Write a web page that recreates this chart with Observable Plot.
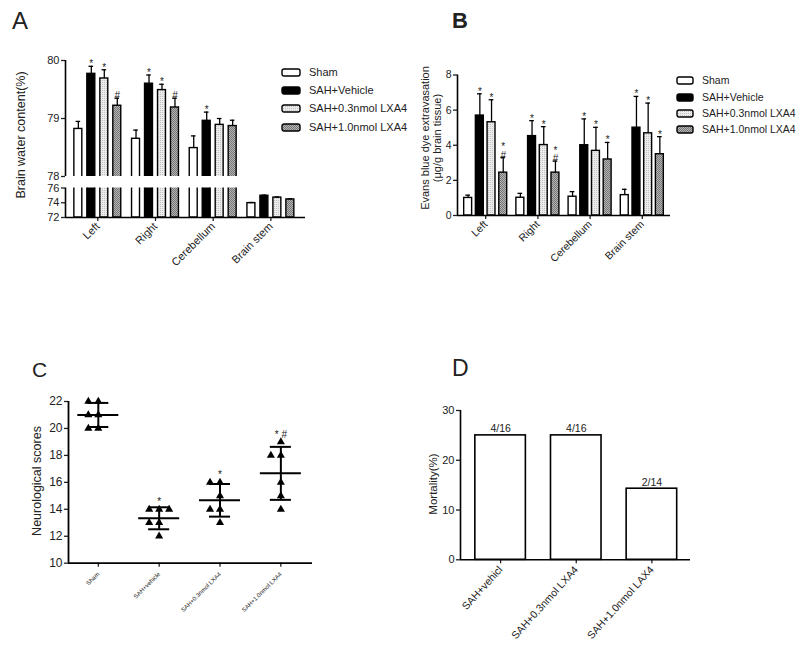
<!DOCTYPE html>
<html><head><meta charset="utf-8">
<script src="https://cdn.jsdelivr.net/npm/d3@7"></script>
<script src="https://cdn.jsdelivr.net/npm/@observablehq/plot@0.6"></script>
<style>
body{margin:0;background:#fff;}
#fig{position:relative;width:800px;height:652px;overflow:hidden;background:#fff;font-family:"Liberation Sans",Arial,sans-serif;color:#222;}
.txt{position:absolute;white-space:nowrap;line-height:1;}
.vl{position:absolute;white-space:nowrap;transform:translate(-50%,-50%) rotate(-90deg);text-align:center;}
.leg{position:absolute;display:flex;align-items:center;white-space:nowrap;transform:translateY(-50%);}
.leg svg{margin-right:8px;}
</style></head><body>
<div id="fig">
<svg width="0" height="0" style="position:absolute">
<defs>
<pattern id="p03" width="2" height="2" patternUnits="userSpaceOnUse"><rect width="2" height="2" fill="#ececec"/><rect width="1" height="1" fill="#c2c2c2"/></pattern>
<pattern id="p10" width="2" height="2" patternUnits="userSpaceOnUse"><rect width="2" height="2" fill="#b4b4b4"/><rect width="1" height="1" fill="#767676"/><rect x="1" y="1" width="1" height="1" fill="#767676"/></pattern>
</defs></svg>
</div>
<script>
// ---------- data ----------
const regions = ["Left", "Right", "Cerebellum", "Brain stem"];
const groups = ["Sham", "SAH+Vehicle", "SAH+0.3nmol LXA4", "SAH+1.0nmol LXA4"];

// Panel A: brain water content (%), rows = regions, columns = groups
const waterMean = [
  [78.82, 79.77, 79.69, 79.22],
  [78.65, 79.60, 79.49, 79.19],
  [78.49, 78.96, 78.89, 78.87],
  [73.95, 74.95, 74.70, 74.45]
];
const waterErr = [
  [0.13, 0.13, 0.15, 0.13],
  [0.15, 0.15, 0.10, 0.16],
  [0.21, 0.15, 0.11, 0.10],
  [0.08, 0.08, 0.08, 0.08]
];
const waterSig = [
  ["", "*", "*", "#"],
  ["", "*", "*", "#"],
  ["", "*", "", ""],
  ["", "", "", ""]
];

// Panel B: Evans blue dye extravasation (ug/g brain tissue)
const evansMean = [
  [1.00, 5.69, 5.31, 2.44],
  [1.01, 4.52, 4.01, 2.44],
  [1.07, 4.00, 3.68, 3.19],
  [1.16, 5.00, 4.68, 3.49]
];
const evansErr = [
  [0.16, 1.24, 1.28, 0.86],
  [0.25, 0.88, 1.05, 0.66],
  [0.29, 1.50, 1.34, 0.97],
  [0.33, 1.78, 1.72, 1.00]
];
const evansSig = [
  ["", "*", "*", "*\n#"],
  ["", "*", "*", "*\n#"],
  ["", "*", "*", "*"],
  ["", "*", "*", "*"]
];

// Panel C: neurological scores
const neuroGroups = ["Sham", "SAH+vehicle", "SAH+0.3nmol LXA4", "SAH+1.0nmol LXA4"];
const neuroSham = [22, 22, 21, 21, 20, 20];
const neuroVehicle = [14, 14, 14, 13, 13, 12];
const neuroLow = [16, 16, 15, 14, 14, 13];
const neuroHigh = [19, 18, 18, 16, 15, 14];
const neuroSig = ["", "*", "*", "* #"];

// Panel D: mortality
const mortGroups = ["SAH+vehicl", "SAH+0.3nmol LXA4", "SAH+1.0nmol LAX4"];
const mortDeaths = [4, 4, 2];
const mortTotal = [16, 16, 14];

// ---------- styles ----------
const FILL = {"Sham": "white", "SAH+Vehicle": "black", "SAH+0.3nmol LXA4": "url(#p03)", "SAH+1.0nmol LXA4": "url(#p10)"};
const FONT = "Liberation Sans, Arial, sans-serif";
const fig = document.getElementById("fig");

function rowsOf(means, errs, sigs) {
  const out = [];
  regions.forEach((r, c) => groups.forEach((g, s) => out.push({c, s, group: g, v: means[c][s], e: means[c][s] + errs[c][s], sig: sigs[c][s]})));
  return out;
}
function add(plot) {
  plot.style.position = "absolute"; plot.style.left = "0px"; plot.style.top = "0px";
  fig.appendChild(plot); return plot;
}
const base = (o) => Object.assign({
  width: 800, height: 652,
  style: {background: "transparent", fontFamily: FONT, fontSize: "11px", color: "#222", overflow: "visible"},
  color: {type: "identity"}
}, o);

function barMarks(rows, step, hw, cap, y1, y2fn, withErr) {
  const cx = d => d.c + (d.s - 1.5) * step;
  const m = [
    Plot.rectY(rows, {x1: d => cx(d) - hw, x2: d => cx(d) + hw, y1: y1, y2: y2fn, fill: d => FILL[d.group], stroke: "black", strokeWidth: 1.4, clip: true})
  ];
  if (withErr.length) {
    m.push(Plot.ruleX(withErr, {x: cx, y1: "v", y2: "e", stroke: "black", strokeWidth: 1.3}));
    m.push(Plot.ruleY(withErr, {x1: d => cx(d) - cap, x2: d => cx(d) + cap, y: "e", stroke: "black", strokeWidth: 1.3}));
    m.push(Plot.text(withErr.filter(d => d.sig), {x: cx, y: "e", text: "sig", dy: 1, lineAnchor: "bottom", lineHeight: 0.85, fontSize: 10, fill: "#222"}));
  }
  return m;
}

// ---------- Panel A ----------
const waterRows = rowsOf(waterMean, waterErr, waterSig);
const AX = [-0.56, 3.6];
add(Plot.plot(base({
  marginLeft: 65, marginRight: 495, marginTop: 60, marginBottom: 476,
  x: {domain: AX, axis: null},
  y: {domain: [78, 80], axis: null},
  marks: [
    ...barMarks(waterRows.filter(d => d.v > 78), 0.225, 0.069, 0.04, 77.9, "v", waterRows.filter(d => d.v > 78)),
    Plot.axisY({ticks: [78, 79, 80], tickFormat: "d", tickSize: 4, tickPadding: 2, label: null, fontSize: 11, strokeWidth: 1.3}),
    Plot.ruleX([AX[0]], {y1: 78, y2: 80, stroke: "black", strokeWidth: 1.6})
  ]
})));
add(Plot.plot(base({
  marginLeft: 65, marginRight: 495, marginTop: 187.5, marginBottom: 435,
  x: {domain: AX},
  y: {domain: [72, 76]},
  marks: [
    ...barMarks(waterRows, 0.225, 0.069, 0.04, 72, d => Math.min(d.v, 76.6), waterRows.filter(d => d.v < 76)),
    Plot.axisY({ticks: [72, 74, 76], tickFormat: "d", tickSize: 4, tickPadding: 2, label: null, fontSize: 11, strokeWidth: 1.3}),
    Plot.axisX({ticks: [0, 1, 2, 3], tickFormat: i => regions[i], tickRotate: -45, tickSize: 4, tickPadding: 3, label: null, fontSize: 11, strokeWidth: 1.3}),
    Plot.ruleX([AX[0]], {stroke: "black", strokeWidth: 1.6}),
    Plot.ruleY([72], {stroke: "black", strokeWidth: 1.6})
  ]
})));

// ---------- Panel B ----------
const evansRows = rowsOf(evansMean, evansErr, evansSig);
const BX = [-0.54, 3.54];
add(Plot.plot(base({
  marginLeft: 457, marginRight: 130, marginTop: 74.5, marginBottom: 437,
  x: {domain: BX},
  y: {domain: [0, 8]},
  marks: [
    ...barMarks(evansRows, 0.224, 0.076, 0.045, 0, "v", evansRows),
    Plot.axisY({ticks: [0, 2, 4, 6, 8], tickFormat: "d", tickSize: 4, tickPadding: 2, label: null, fontSize: 10.5, strokeWidth: 1.3}),
    Plot.axisX({ticks: [0, 1, 2, 3], tickFormat: i => regions[i], tickRotate: -45, tickSize: 4, tickPadding: 3, label: null, fontSize: 10.5, strokeWidth: 1.3}),
    Plot.ruleX([BX[0]], {stroke: "black", strokeWidth: 1.6}),
    Plot.ruleY([0], {stroke: "black", strokeWidth: 1.6})
  ]
})));

// ---------- Panel C ----------
const neuroSets = [neuroSham, neuroVehicle, neuroLow, neuroHigh];
const neuroPts = [];
neuroSets.forEach((vals, c) => {
  const counts = d3.rollup(vals, v => v.length, v => v);
  const seen = new Map();
  vals.forEach(v => {
    const k = counts.get(v), i = seen.get(v) || 0;
    seen.set(v, i + 1);
    neuroPts.push({c, v, off: i - Math.ceil((k - 1) / 2)});
  });
});
const neuroStats = neuroSets.map((vals, c) => ({c, mean: d3.mean(vals), sd: d3.deviation(vals), max: d3.max(vals), sig: neuroSig[c]}));
const CX = [-0.49, 3.52];
add(Plot.plot(base({
  marginLeft: 68, marginRight: 488, marginTop: 401, marginBottom: 89.3,
  x: {domain: CX},
  y: {domain: [10, 22]},
  marks: [
    Plot.dot(neuroPts, {x: d => d.c + d.off * 0.164, y: "v", symbol: "triangle", r: 3, fill: "black", stroke: "none"}),
    Plot.ruleY(neuroStats, {x1: d => d.c - 0.337, x2: d => d.c + 0.337, y: "mean", stroke: "black", strokeWidth: 2}),
    Plot.ruleX(neuroStats, {x: "c", y1: d => d.mean - d.sd, y2: d => d.mean + d.sd, stroke: "black", strokeWidth: 2}),
    Plot.ruleY(neuroStats, {x1: d => d.c - 0.173, x2: d => d.c + 0.173, y: d => d.mean - d.sd, stroke: "black", strokeWidth: 2}),
    Plot.ruleY(neuroStats, {x1: d => d.c - 0.173, x2: d => d.c + 0.173, y: d => d.mean + d.sd, stroke: "black", strokeWidth: 2}),
    Plot.text(neuroStats.filter(d => d.sig), {x: "c", y: "max", text: "sig", dy: -4, lineAnchor: "bottom", fontSize: 10, fill: "#222"}),
    Plot.axisY({ticks: d3.range(10, 23, 2), tickFormat: "d", tickSize: 4, tickPadding: 2, label: null, fontSize: 12, strokeWidth: 1.3}),
    Plot.axisX({ticks: [0, 1, 2, 3], tickFormat: i => neuroGroups[i], tickRotate: -45, tickSize: 4, tickPadding: 6, label: null, fontSize: 6, strokeWidth: 1.3}),
    Plot.ruleX([CX[0]], {stroke: "black", strokeWidth: 1.8}),
    Plot.ruleY([10], {stroke: "black", strokeWidth: 1.8})
  ]
})));

// ---------- Panel D ----------
const mortRows = mortGroups.map((g, i) => ({i, g, m: mortDeaths[i] / mortTotal[i] * 100, lab: `${mortDeaths[i]}/${mortTotal[i]}`}));
const DX = [-0.53, 2.51];
add(Plot.plot(base({
  marginLeft: 460, marginRight: 110, marginTop: 410, marginBottom: 92.7,
  x: {domain: DX},
  y: {domain: [0, 30]},
  marks: [
    Plot.rectY(mortRows, {x1: d => d.i - 0.334, x2: d => d.i + 0.334, y1: 0, y2: "m", fill: "white", stroke: "black", strokeWidth: 1.6}),
    Plot.text(mortRows, {x: "i", y: "m", text: "lab", dy: -3, lineAnchor: "bottom", fontSize: 10.5, fill: "#222"}),
    Plot.axisY({ticks: [0, 10, 20, 30], tickFormat: "d", tickSize: 4, tickPadding: 2, label: null, fontSize: 11, strokeWidth: 1.3}),
    Plot.axisX({ticks: [0, 1, 2], tickFormat: i => mortGroups[i], tickRotate: -48, tickSize: 4, tickPadding: 4, label: null, fontSize: 10.5, strokeWidth: 1.3}),
    Plot.ruleX([DX[0]], {stroke: "black", strokeWidth: 1.6}),
    Plot.ruleY([0], {stroke: "black", strokeWidth: 1.6})
  ]
})));

// ---------- text: panel letters, axis titles, legends ----------
function txt(t, x, y, css) {
  const d = document.createElement("div"); d.className = "txt"; d.textContent = t;
  d.style.left = x + "px"; d.style.top = y + "px"; Object.assign(d.style, css || {}); fig.appendChild(d); return d;
}
function vlabel(lines, cx, cy, size, lh) {
  const d = document.createElement("div"); d.className = "vl";
  d.style.left = cx + "px"; d.style.top = cy + "px"; d.style.fontSize = size + "px"; d.style.lineHeight = lh + "px";
  d.innerHTML = lines.map(l => `<div>${l}</div>`).join(""); fig.appendChild(d);
}
function legend(x, ys, sw, size) {
  groups.forEach((g, i) => {
    const d = document.createElement("div"); d.className = "leg";
    d.style.left = x + "px"; d.style.top = ys[i] + "px"; d.style.fontSize = size + "px";
    d.innerHTML = `<svg width="${sw}" height="9"><rect x="1" y="1" width="${sw - 2}" height="7" rx="2" fill="${FILL[g]}" stroke="black" stroke-width="1.4"/></svg><span>${g}</span>`;
    fig.appendChild(d);
  });
}
txt("A", 12, 9, {fontSize: "24px"});
txt("B", 452, 10, {fontSize: "22px", fontWeight: "bold"});
txt("C", 32, 359, {fontSize: "21px"});
txt("D", 452, 357, {fontSize: "23px"});

vlabel(["Brain water content(%)"], 21, 135, 12.5, 14);
vlabel(["Evans blue dye extravasation", "(μg/g brain tissue)"], 431, 138, 11, 12);
vlabel(["Neurological scores"], 37, 481, 12.5, 14);
vlabel(["Mortality(%)"], 433, 484, 11.5, 13);

legend(281, [72, 90, 108, 127], 20, 11);
legend(676, [80, 97, 113, 129], 18, 10.5);
</script></body></html>
